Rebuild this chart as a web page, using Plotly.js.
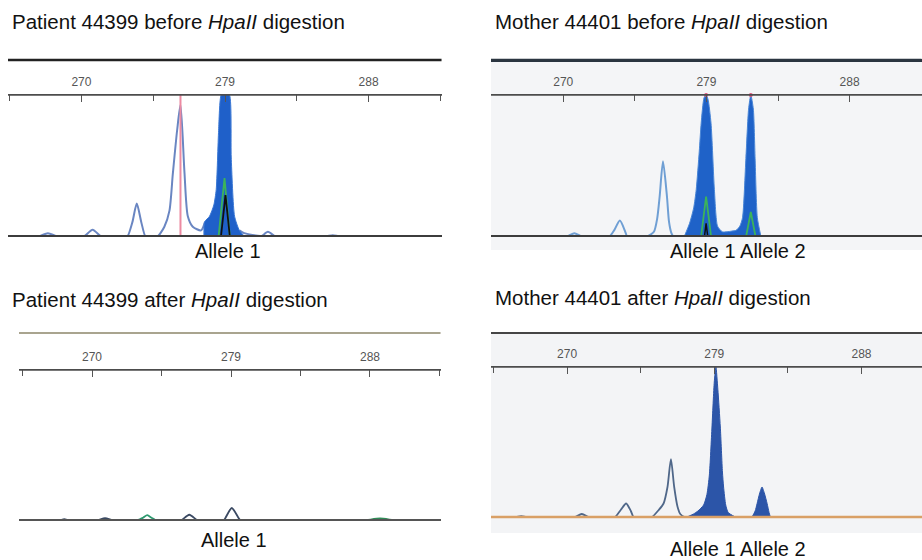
<!DOCTYPE html>
<html>
<head>
<meta charset="utf-8">
<script src="https://cdn.plot.ly/plotly-3.0.1.min.js"></script>
<style>
html,body{margin:0;padding:0;background:#fff;}
#wrap{position:relative;width:922px;height:560px;}
#chart{position:absolute;left:0;top:0;width:922px;height:560px;}
.panelbg{position:absolute;box-sizing:border-box;}
</style>
</head>
<body>
<div id="wrap">
  <div class="panelbg" id="bg2" style="left:491px;top:59px;width:431px;height:191px;background:#f4f5f7;border-top:3px solid #2b3540;"></div>
  <div class="panelbg" id="bg4" style="left:491px;top:332px;width:431px;height:201px;background:#f3f4f6;border-top:2px solid #4a4a4a;"></div>
  <div id="chart"></div>
</div>
<script>
// ---------- data (fragment size in bp, relative peak height) ----------
var tickValues = [270, 279, 288];
var tickLabels = ["270", "279", "288"];

// Panel 1: Patient 44399 before HpaII
var p1OutlineX = [265.4, 267.3, 267.4, 267.9, 268.4, 268.5, 270.1, 270.2, 270.7, 271.2, 271.3, 272.8, 272.9, 273.2, 273.47, 273.75, 274.0, 274.1, 274.7, 274.8, 275.2, 275.52, 275.73, 276.0, 276.21, 276.46, 276.67, 276.98, 277.5, 277.75];
var p1OutlineY = [0, 0, 0, 0.02, 0, 0, 0, 0, 0.045, 0, 0, 0, 0, 0.1, 0.23, 0.1, 0, 0, 0, 0, 0.066, 0.18, 0.44, 0.75, 0.93, 0.45, 0.14, 0.066, 0.04, 0.1];
var p1TailX = [279.9, 280.2, 281.2, 281.3, 281.69, 282.1, 282.2, 285.3, 285.4, 285.75, 286.1, 286.2, 292.6];
var p1TailY = [0.04, 0.02, 0, 0, 0.03, 0, 0, 0, 0, 0.006, 0, 0, 0];
var p1AlleleX = [277.68, 277.72, 278.03, 278.3, 278.45, 278.6, 278.76, 279.0, 279.28, 279.39, 279.6, 279.9, 280.2];
var p1AlleleY = [0, 0.10, 0.14, 0.22, 0.33, 0.75, 1.0, 1.02, 1.0, 0.56, 0.14, 0.04, 0];
var p1GreenX = [278.6, 278.97, 279.3];
var p1GreenY = [0, 0.41, 0];
var p1BlackX = [278.75, 279.03, 279.3];
var p1BlackY = [0, 0.29, 0];
var p1SizerX = [276.21, 276.21];
var p1SizerY = [0, 1];

// Panel 2: Mother 44401 before HpaII
var p2OutlineX = [265.4, 270.2, 270.3, 270.7, 271.1, 271.2, 272.84, 272.94, 273.2, 273.56, 273.9, 274.0, 274.1, 275.23, 275.33, 275.7, 275.9, 276.06, 276.27, 276.52, 276.65, 276.8, 276.9, 277.0, 277.6];
var p2OutlineY = [0, 0, 0, 0.02, 0, 0, 0, 0, 0.04, 0.11, 0.03, 0, 0, 0, 0, 0.03, 0.12, 0.28, 0.53, 0.28, 0.1, 0.02, 0, 0, 0];
var p2AllelesX = [277.62, 277.94, 278.2, 278.36, 278.55, 278.67, 278.85, 278.98, 279.1, 279.29, 279.5, 279.7, 280.0, 280.3, 280.6, 280.86, 281.1, 281.27, 281.48, 281.65, 281.79, 281.95, 282.06, 282.2, 282.42];
var p2AllelesY = [0, 0.09, 0.2, 0.33, 0.6, 0.8, 0.98, 1.0, 0.97, 0.8, 0.33, 0.07, 0.03, 0.03, 0.035, 0.04, 0.07, 0.13, 0.55, 0.9, 1.0, 0.9, 0.55, 0.13, 0];
var p2Green1X = [278.67, 278.98, 279.29];
var p2Green1Y = [0, 0.28, 0];
var p2Green2X = [281.5, 281.79, 282.08];
var p2Green2Y = [0, 0.17, 0];
var p2BlackX = [278.88, 278.98, 279.08];
var p2BlackY = [0, 0.09, 0];
var p2TopsX = [278.98, 281.79];
var p2TopsY = [1, 1];

// Panel 3: Patient 44399 after HpaII
var p3MainX = [265.3, 267.9, 268.0, 268.2, 268.4, 268.5, 270.3, 270.4, 270.84, 271.3, 271.4, 275.7, 275.8, 276.3, 276.8, 276.9, 278.45, 278.55, 279.05, 279.59, 279.7, 292.6];
var p3MainY = [0, 0, 0, 0.005, 0, 0, 0, 0, 0.012, 0, 0, 0, 0, 0.035, 0, 0, 0, 0, 0.08, 0, 0, 0];
var p3GreenX = [272.9, 273.0, 273.3, 273.58, 273.85, 274.1, 274.2];
var p3GreenY = [0, 0, 0.015, 0.032, 0.015, 0, 0];
var p3Green2X = [287.7, 287.8, 288.65, 289.5, 289.6];
var p3Green2Y = [0, 0, 0.01, 0, 0];

// Panel 4: Mother 44401 after HpaII
var p4OutlineX = [265.35, 266.8, 266.9, 267.2, 267.5, 267.6, 270.4, 270.5, 270.9, 271.3, 271.4, 272.84, 272.94, 273.3, 273.61, 273.9, 274.06, 274.16, 275.09, 275.19, 275.59, 275.9, 276.14, 276.35, 276.55, 276.75, 276.92, 277.2, 277.3];
var p4OutlineY = [0, 0, 0, 0.005, 0, 0, 0, 0, 0.02, 0, 0, 0, 0, 0.05, 0.09, 0.04, 0, 0, 0, 0, 0.045, 0.09, 0.2, 0.385, 0.2, 0.07, 0.02, 0, 0];
var p4Allele1X = [277.33, 277.73, 278.0, 278.35, 278.55, 278.7, 278.86, 279.0, 279.1, 279.22, 279.37, 279.5, 279.57, 279.7, 279.85, 280.29];
var p4Allele1Y = [0, 0.02, 0.04, 0.08, 0.15, 0.28, 0.6, 0.9, 1.0, 0.85, 0.6, 0.3, 0.2, 0.08, 0.03, 0];
var p4Allele2X = [281.31, 281.5, 281.62, 281.78, 281.92, 282.06, 282.23, 282.35, 282.43];
var p4Allele2Y = [0, 0.04, 0.09, 0.16, 0.2, 0.16, 0.09, 0.03, 0];

var titles = [
  "Patient 44399 before <i>HpaII</i> digestion",
  "Mother 44401 before <i>HpaII</i> digestion",
  "Patient 44399 after <i>HpaII</i> digestion",
  "Mother 44401 after <i>HpaII</i> digestion"
];
var alleleLabels = ["Allele 1", "Allele 1 Allele 2", "Allele 1", "Allele 1 Allele 2"];

// ---------- layout geometry (pixels) ----------
var W = 922, H = 560;
var panels = [
  {left: 8,   right: 442, axisY: 95,  baseY: 236, xr: [265.4, 292.6], top: 60,  base: "#3c3c3c",
   topColor: "#222222", topWidth: 2.5, title: [10, 22], label: [228, 251]},
  {left: 491, right: 922, axisY: 95,  baseY: 236, xr: [265.46, 292.55], top: 60, base: "#3c3c3c",
   topColor: "#2b3540", topWidth: 2.5, title: [493, 22], label: [738, 251]},
  {left: 19,  right: 441, axisY: 370, baseY: 520, xr: [265.27, 292.6], top: 333, base: "#555555",
   topColor: "#a9a48f", topWidth: 2, title: [10, 299], label: [234, 540]},
  {left: 491, right: 922, axisY: 367, baseY: 517, xr: [265.35, 291.7], top: 333, base: "#d9a066",
   topColor: "#454545", topWidth: 2, title: [493, 297], label: [738, 549]}
];
var YMIN = -0.02, YMAX = 1.0;
function px(x){ return x / W; }
function py(y){ return 1 - y / H; }

var layout = {
  width: W, height: H,
  margin: {l: 0, r: 0, t: 0, b: 0},
  paper_bgcolor: "rgba(0,0,0,0)",
  plot_bgcolor: "rgba(0,0,0,0)",
  showlegend: false,
  shapes: [], annotations: []
};

panels.forEach(function(p, i){
  var n = i === 0 ? "" : String(i + 1);
  var bottomPx = p.baseY + (0 - YMIN) / (YMAX - 0) * (p.baseY - p.axisY);
  layout["xaxis" + n] = {
    domain: [px(p.left), px(p.right)],
    range: p.xr,
    anchor: "y" + n,
    side: "top",
    showline: true, linecolor: "#4d4d4d", linewidth: 1.5,
    showgrid: false, zeroline: false,
    tickmode: "array", tickvals: tickValues, ticktext: tickLabels,
    ticks: "inside", ticklen: 7, tickcolor: "#555", tickwidth: 1,
    minor: {tickmode: "linear", tick0: 270, dtick: 4.5, ticks: "inside", ticklen: 6, tickcolor: "#555", showgrid: false},
    ticklabelstandoff: 3,
    tickfont: {family: "Liberation Sans, Arial, sans-serif", size: 12, color: "#555"},
    fixedrange: true
  };
  layout["yaxis" + n] = {
    domain: [py(bottomPx), py(p.axisY)],
    range: [YMIN, YMAX],
    anchor: "x" + n,
    visible: false, showgrid: false, zeroline: false, fixedrange: true
  };
  // top frame line
  layout.shapes.push({type: "line", xref: "paper", yref: "paper", layer: "above",
    x0: px(p.left), x1: px(p.right) - 0.0005, y0: py(p.top), y1: py(p.top),
    line: {color: p.topColor, width: p.topWidth}});
  // axis line at top of plot area
  layout.shapes.push({type: "line", xref: "x" + n + " domain", yref: "y" + n + " domain",
    x0: 0, x1: 1, y0: 1, y1: 1,
    line: {color: "#4d4d4d", width: 1.5}});
  // baseline
  layout.shapes.push({type: "line", xref: "x" + n + " domain", yref: "y" + n,
    x0: 0, x1: 1, y0: 0, y1: 0, layer: "above",
    line: {color: p.base, width: i === 3 ? 2.5 : 2}});
  layout.annotations.push({xref: "paper", yref: "paper", x: px(p.title[0]), y: py(p.title[1]),
    xanchor: "left", yanchor: "middle", showarrow: false, text: titles[i],
    font: {family: "Liberation Sans, Arial, sans-serif", size: 20.5, color: "#111"}});
  layout.annotations.push({xref: "paper", yref: "paper", x: px(p.label[0]), y: py(p.label[1]),
    xanchor: "center", yanchor: "middle", showarrow: false, text: alleleLabels[i],
    font: {family: "Liberation Sans, Arial, sans-serif", size: 20, color: "#111"}});
});

function line(x, y, ax, color, width, shape){
  return {type: "scatter", mode: "lines", x: x, y: y, xaxis: "x" + ax, yaxis: "y" + ax,
    line: {color: color, width: width, shape: shape || "spline", smoothing: 0.7}, hoverinfo: "skip"};
}
function filled(x, y, ax, fill, edge){
  return {type: "scatter", mode: "lines", x: x, y: y, xaxis: "x" + ax, yaxis: "y" + ax,
    fill: "tozeroy", fillcolor: fill, line: {color: edge, width: 1, shape: "spline", smoothing: 0.6}, hoverinfo: "skip"};
}

var traces = [
  // panel 1
  line(p1OutlineX, p1OutlineY, "", "#6a86c2", 2),
  line(p1TailX, p1TailY, "", "#6a86c2", 2),
  line(p1SizerX, p1SizerY, "", "#ec8aa2", 2, "linear"),
  filled(p1AlleleX, p1AlleleY, "", "#1f60c9", "#3b78d4"),
  line(p1GreenX, p1GreenY, "", "#3cb35a", 1.8, "linear"),
  line(p1BlackX, p1BlackY, "", "#101010", 1.8, "linear"),
  // panel 2
  line(p2OutlineX, p2OutlineY, "2", "#6f9fd4", 2),
  filled(p2AllelesX, p2AllelesY, "2", "#1f62c8", "#4a86d6"),
  line(p2Green1X, p2Green1Y, "2", "#3cb35a", 1.8, "linear"),
  line(p2Green2X, p2Green2Y, "2", "#3cb35a", 1.8, "linear"),
  line(p2BlackX, p2BlackY, "2", "#101010", 1.5, "linear"),
  {type: "scatter", mode: "markers", x: p2TopsX, y: p2TopsY, xaxis: "x2", yaxis: "y2", cliponaxis: false,
   marker: {color: "#e0507a", size: 4}, hoverinfo: "skip"},
  // panel 3
  line(p3MainX, p3MainY, "3", "#3b4a63", 1.8),
  line(p3GreenX, p3GreenY, "3", "#2e9a70", 1.8),
  line(p3Green2X, p3Green2Y, "3", "#2e8b57", 1.8),
  // panel 4
  line(p4OutlineX, p4OutlineY, "4", "#4f6789", 1.8),
  filled(p4Allele1X, p4Allele1Y, "4", "#2c55a8", "#2c55a8"),
  filled(p4Allele2X, p4Allele2Y, "4", "#2c55a8", "#2c55a8")
];

Plotly.newPlot("chart", traces, layout, {staticPlot: true, displayModeBar: false});
</script>
</body>
</html>
